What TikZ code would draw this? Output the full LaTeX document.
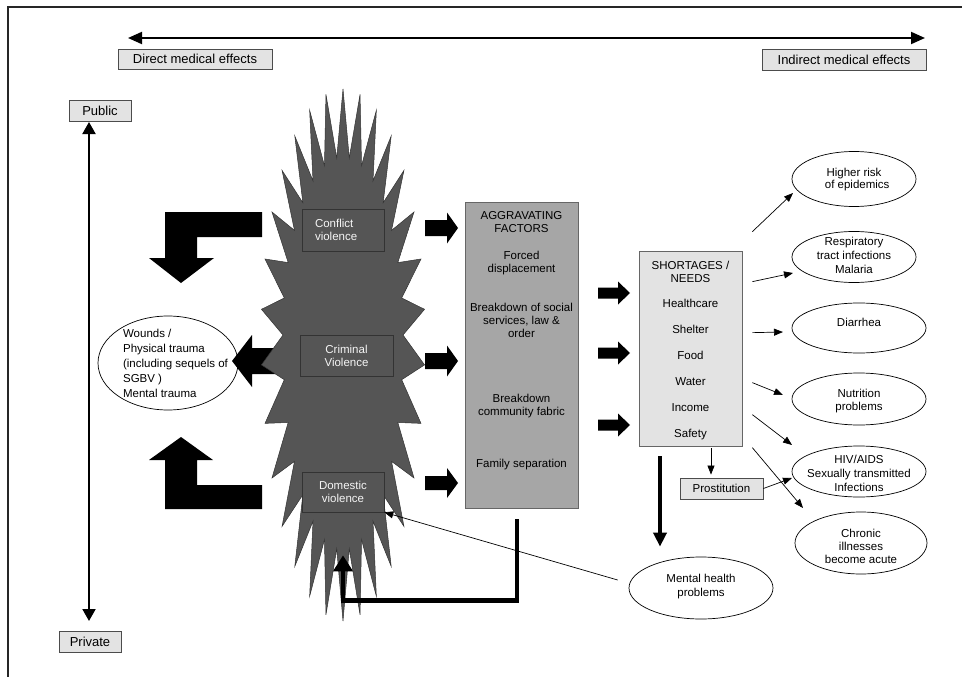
\documentclass[tikz,border=0pt]{standalone}
\usepackage{fontspec}
\setmainfont{Liberation Sans}
\usetikzlibrary{arrows.meta,calc,shapes.geometric}
\definecolor{burstc}{HTML}{555555}
\definecolor{aggc}{HTML}{A6A6A6}
\definecolor{lightc}{HTML}{E3E3E3}
% right-pointing block arrow: x0, y0, body length, total length, body half-height, head half-height
\newcommand\blockR[6]{\fill (#1,{#2-#5}) -- ({#1+#3},{#2-#5}) -- ({#1+#3},{#2-#6}) -- ({#1+#4},#2) -- ({#1+#3},{#2+#6}) -- ({#1+#3},{#2+#5}) -- (#1,{#2+#5}) -- cycle;}
\begin{document}
\begin{tikzpicture}[x=1pt,y=-1pt,
  txt/.style={font=\fontsize{11.5pt}{13pt}\selectfont, inner sep=0pt},
  lbl/.style={draw=black!70, fill=lightc, font=\fontsize{13pt}{15pt}\selectfont, inner sep=0pt, line width=0.8pt},
  vbox/.style={draw=black!80, fill=burstc, text=black!4, font=\fontsize{11.5pt}{13pt}\selectfont, inner sep=0pt, line width=0.6pt},
  ell/.style={draw=black, ellipse, line width=0.7pt, inner sep=0pt, fill=white},
  thinarrow/.style={line width=0.7pt, -{Triangle[length=9pt,width=7pt]}},
  bigline/.style={line width=2pt}]
\useasboundingbox (0,0) rectangle (962,677);
% frame
\draw[line width=2.2pt, black!85] (8,677) -- (8,7) -- (962,7);

% axis labels
\node[lbl, minimum width=154pt, minimum height=20pt] (direct) at (195,59) {Direct medical effects};
\node[lbl, minimum width=164pt, minimum height=21pt] (indirect) at (844,59.5) {Indirect medical effects};
\node[lbl, minimum width=62pt, minimum height=21pt] (public) at (100,110.5) {Public};
\node[lbl, minimum width=62pt, minimum height=21pt] (private) at (90,641.5) {Private};
\coordinate (hL) at (128,38);
\coordinate (hR) at (925,38);
\coordinate (vT) at (89,122);
\coordinate (vB) at (89,621);
\draw[bigline, {Triangle[length=14pt,width=12pt]}-{Triangle[length=14pt,width=12pt]}] (hL) -- (hR);
\draw[bigline, {Triangle[length=12pt,width=13pt]}-{Triangle[length=12pt,width=13pt]}] (vT) -- (vB);

% wounds ellipse
\node[ell, minimum width=140pt, minimum height=94pt, label={[txt,align=left,xshift=7.5pt,yshift=0pt]center:{Wounds /\\[2pt]Physical trauma\\[2pt](including sequels of\\[2pt]SGBV )\\[2pt]Mental trauma}}] (wounds) at (168,363) {};

% L-shaped and left block arrows (behind the burst)
\fill (262,212) -- (165,212) -- (165,258) -- (149,258) -- (181,283) -- (214,258) -- (197,258) -- (197,237) -- (262,237) -- cycle;
\fill (262,509) -- (165,509) -- (165,460) -- (149,460) -- (181,437) -- (213,460) -- (197,460) -- (197,485) -- (262,485) -- cycle;
\fill (232,361) -- (252,335) -- (252,348) -- (278,348) -- (278,374) -- (252,374) -- (252,387) -- cycle;

% burst
\filldraw[fill=burstc, draw=black!80, line width=0.5pt]
  plot[variable=\t, samples at={0,6,...,354}]
  ({343+(60+22*(1-mod(\t,12)/6))*sin(\t)},
   {335-((cos(\t)>0) ? (178+68*(1-mod(\t,12)/6)) : (215+71*(1-mod(\t,12)/6)))*cos(\t)}) -- cycle;

\node[vbox, minimum width=82pt, minimum height=42pt, text width=56pt, align=left] (conflict) at (343,230) {Conflict\\violence};
\node[vbox, minimum width=93pt, minimum height=41pt, align=center] (criminal) at (346.5,355.5) {Criminal\\Violence};
\node[vbox, minimum width=82pt, minimum height=40pt, align=center] (domestic) at (343,492) {Domestic\\violence};

% aggravating factors
\node[draw=black!60, fill=aggc, line width=0.7pt, minimum width=113pt, minimum height=306pt, inner sep=0pt] (agg) at (521.5,355) {};
\node[txt, align=center, anchor=north] (aggtxt) at (521.5,210.8) {AGGRAVATING\\FACTORS\\[14pt]Forced\\displacement\\[26pt]Breakdown of social\\services, law \&\\order\\[52pt]Breakdown\\community fabric\\[39pt]Family separation};

\blockR{425}{228}{22}{33}{8}{15.5}
\blockR{425}{361}{22}{33}{8}{15.5}
\blockR{425}{483}{22}{33}{7}{15}

% shortages
\node[draw=black!60, fill=lightc, line width=0.7pt, minimum width=103pt, minimum height=195pt, inner sep=0pt] (short) at (690.5,348.5) {};
\node[txt, align=center, anchor=north] (shorttxt) at (690.5,260.8) {SHORTAGES /\\NEEDS\\[12pt]Healthcare\\[13pt]Shelter\\[13pt]Food\\[13pt]Water\\[13pt]Income\\[13pt]Safety};

\blockR{598}{293}{20}{32}{5.5}{11.5}
\blockR{598}{353}{20}{32}{5.5}{11.5}
\blockR{598}{425}{20}{32}{5.5}{11.5}

\node[draw=black!70, fill=lightc, line width=0.8pt, inner sep=0pt, minimum width=83pt, minimum height=21pt, font=\fontsize{11.5pt}{13pt}\selectfont] (prost) at (721.5,488.5) {Prostitution};

% ellipses
\node[ell, minimum width=124pt, minimum height=55pt, label={[txt,align=center,yshift=-1pt]center:{Higher risk\\[-1pt]\ \ of epidemics}}] (e1) at (854,179) {};
\node[ell, minimum width=124pt, minimum height=51pt, label={[txt,align=center,yshift=2pt]center:{Respiratory\\[1pt]tract infections\\[1pt]Malaria}}] (e2) at (854,257) {};
\node[ell, minimum width=134pt, minimum height=50pt, label={[txt,align=center,yshift=6pt]center:{Diarrhea}}] (e3) at (859,328) {};
\node[ell, minimum width=134pt, minimum height=52pt, label={[txt,align=center,yshift=-2pt]center:{Nutrition\\problems}}] (e4) at (859,399) {};
\node[ell, minimum width=134pt, minimum height=51pt, label={[txt,align=center,yshift=-2pt]center:{HIV/AIDS\\[1.5pt]Sexually transmitted\\[1pt]Infections}}] (e5) at (859,471.5) {};
\node[ell, minimum width=132pt, minimum height=62pt, label={[txt,align=center,yshift=-3pt]center:{Chronic\\illnesses\\become acute}}] (e6) at (861,543) {};
\node[ell, minimum width=144pt, minimum height=62pt, label={[txt,align=center,yshift=1pt]center:{Mental health\\[1pt]problems}}] (mental) at (701,588) {};

% connectors
\draw[thinarrow] ($(short.north east)+(10,-19)$) -- ($(e1)+(-61,14)$);
\draw[thinarrow] ($(short.north east)+(10,31)$) -- ($(e2)+(-61,16)$);
\draw[thinarrow] ($(short.north east)+(10,82)$) -- ($(e3)+(-76,4)$);
\draw[thinarrow] ($(short.north east)+(10,132)$) -- ($(e4)+(-76,-4)$);
\draw[thinarrow] ($(short.north east)+(10,164)$) -- ($(e5)+(-67,-26.5)$);
\draw[thinarrow] ($(short.north east)+(10,197)$) -- ($(e6)+(-58,-35)$);
\draw[thinarrow] (prost.east) -- ($(e5)+(-67,6.5)$);
\draw[thinarrow] ($(short.south)+(20.5,2)$) -- ($(prost.north)+(-10.5,-3)$);
\draw[line width=3.5pt, -{Triangle[length=14pt,width=13pt]}] ($(short.south)+(-30.5,10)$) -- ($(mental.north)+(-41,-10)$);
\draw[line width=4.5pt, -{Triangle[length=16pt,width=19pt]}] ($(agg.south)+(-4.5,11)$) -- ++(0,81) -| ($(domestic.south)+(0,43)$);
\draw[thinarrow] ($(mental.west)+(-11,-8)$) -- (domestic.south east);
\end{tikzpicture}
\end{document}
